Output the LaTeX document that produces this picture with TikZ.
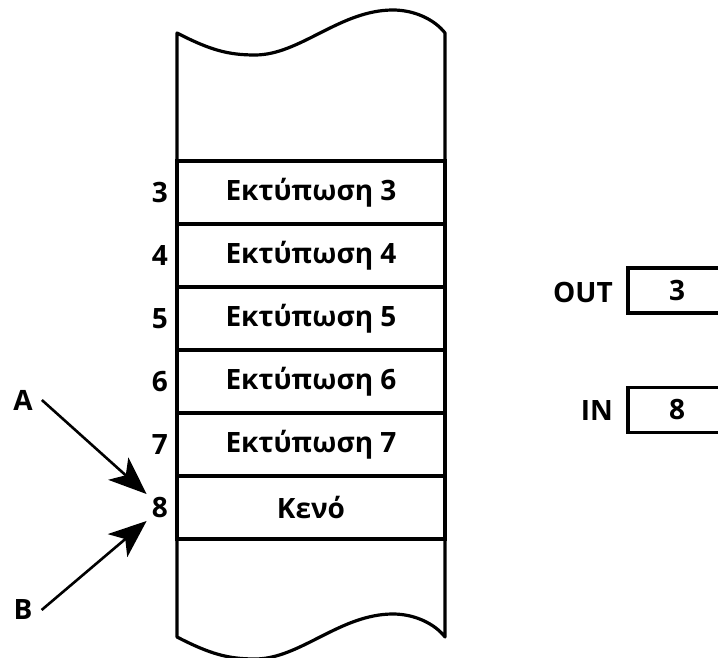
\documentclass[tikz,border=0pt]{standalone}
\usepackage{fontspec}
\setmainfont{Open Sans}
\usetikzlibrary{arrows.meta}

\tikzset{
	cell/.style={draw=black, line width=3.2pt, minimum width=268pt, minimum height=63pt, inner sep=0pt, font=\fontsize{28}{33}\selectfont\bfseries},
	num/.style={anchor=east, inner sep=3pt, font=\fontsize{28}{33}\selectfont\bfseries},
	reg/.style={draw=black, line width=3.2pt, minimum width=98pt, minimum height=45pt, inner sep=0pt, font=\fontsize{28}{33}\selectfont\bfseries},
	arr/.style={-{Stealth[length=38pt,width=30pt,inset=10pt]}, line width=2.6pt}
}

\begin{document}
\begin{tikzpicture}[x=1pt,y=-1pt]
	
	\useasboundingbox (0,0) rectangle (718,658);
	
	% the stack with its torn ends
	\draw[line width=3.2pt, line join=round] (177,160) -- (177,33)
		.. controls (210,50) and (228,55) .. (255,55)
		.. controls (300,55) and (340,10) .. (393,10)
		.. controls (415,10) and (435,20) .. (445,33) -- (445,160);
	\draw[line width=3.2pt, line join=round] (177,538) -- (177,637)
		.. controls (210,654) and (228,659) .. (255,659)
		.. controls (300,659) and (340,614) .. (393,614)
		.. controls (415,614) and (435,624) .. (445,637) -- (445,538);
	
	\node[cell] (c3) at (311,192.5) {Εκτύπωση 3};
	\node[cell] (c4) at (311,255.5) {Εκτύπωση 4};
	\node[cell] (c5) at (311,318.5) {Εκτύπωση 5};
	\node[cell] (c6) at (311,381.5) {Εκτύπωση 6};
	\node[cell] (c7) at (311,444.5) {Εκτύπωση 7};
	\node[cell] (c8) at (311,507.5) {Κενό};
	
	\node[num] (l3) at (171,192.5) {3};
	\node[num] (l4) at (171,255.5) {4};
	\node[num] (l5) at (171,318.5) {5};
	\node[num] (l6) at (171,381.5) {6};
	\node[num] (l7) at (171,444.5) {7};
	\node[num] (l8) at (171,507.5) {8};
	
	% pointers
	\node[num, anchor=center] (A) at (23,400) {A};
	\node[num, anchor=center] (B) at (23,610) {B};
	
	\path[arr] ([xshift=6pt]A.east) edge ([xshift=-2pt]l8.north west);
	\path[arr] ([xshift=6pt]B.east) edge ([xshift=-2pt]l8.south west);
	
	% registers
	\node[num] (out) at (616,292) {OUT};
	\node[num] (in) at (616,411) {IN};
	\node[reg] (outv) at (677,290.5) {3};
	\node[reg] (inv) at (677,410) {8};
	
\end{tikzpicture}
\end{document}
